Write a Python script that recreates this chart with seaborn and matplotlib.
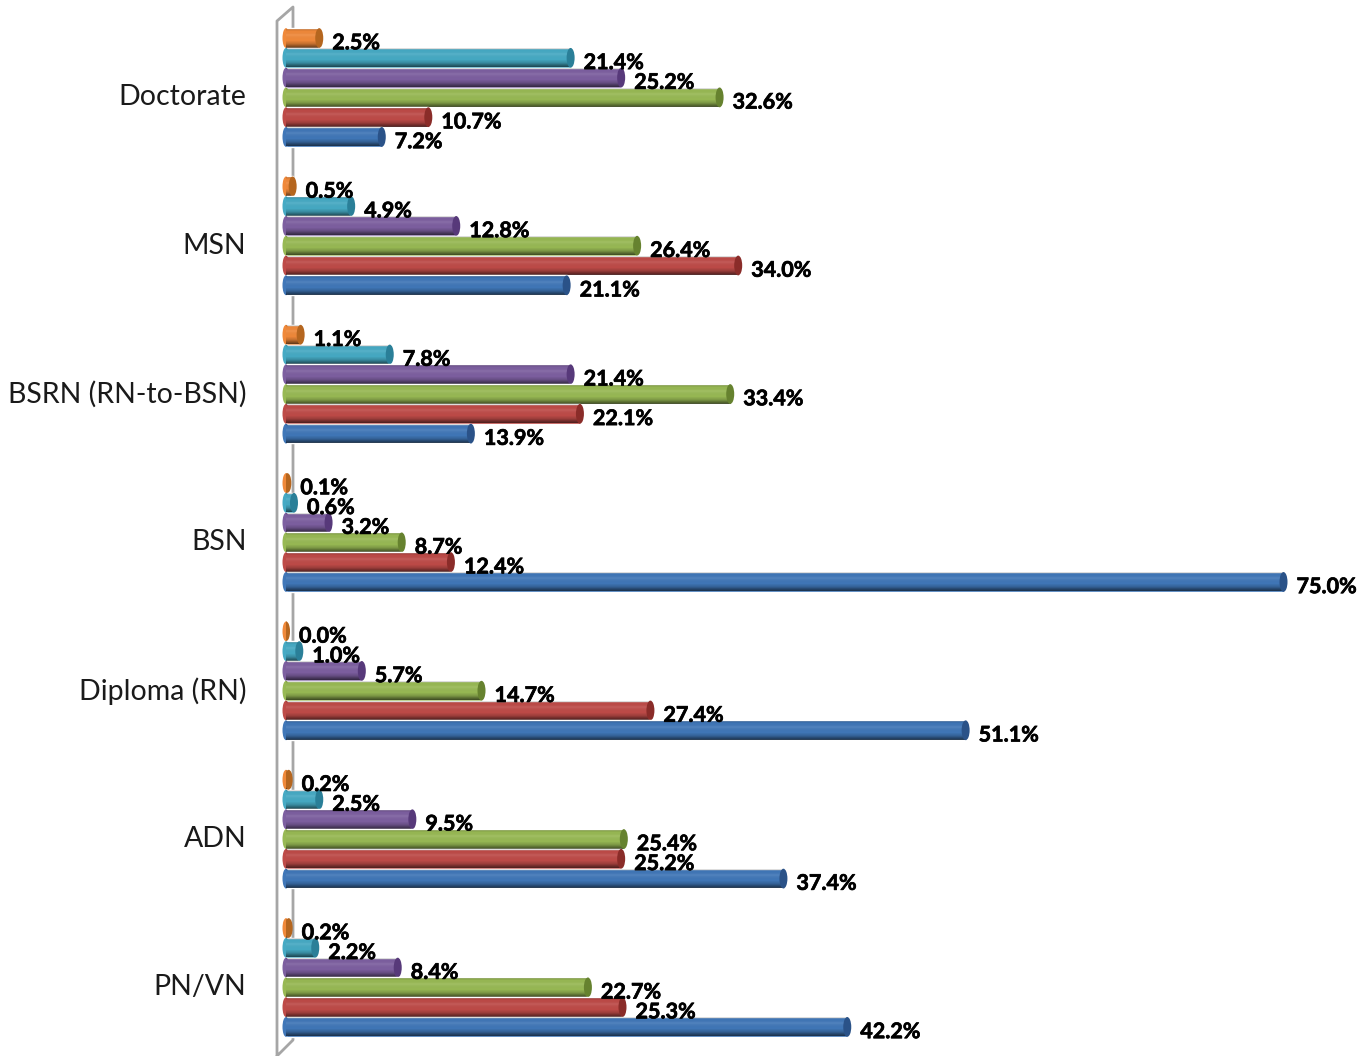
import numpy as np
import pandas as pd
import matplotlib
matplotlib.use("Agg")
import matplotlib.pyplot as plt
import matplotlib.patheffects as pe
import seaborn as sns
from matplotlib.patches import Ellipse

degrees = ["Doctorate", "MSN", "BSRN (RN-to-BSN)", "BSN", "Diploma (RN)", "ADN", "PN/VN"]
# series order top to bottom inside each group
series_names = ["orange", "teal", "purple", "green", "red", "blue"]
orange = [2.5, 0.5, 1.1, 0.1, 0.0, 0.2, 0.2]
teal = [21.4, 4.9, 7.8, 0.6, 1.0, 2.5, 2.2]
purple = [25.2, 12.8, 21.4, 3.2, 5.7, 9.5, 8.4]
green = [32.6, 26.4, 33.4, 8.7, 14.7, 25.4, 22.7]
red = [10.7, 34.0, 22.1, 12.4, 27.4, 25.2, 25.3]
blue = [7.2, 21.1, 13.9, 75.0, 51.1, 37.4, 42.2]
colors = ["#F0893A", "#46AAC4", "#7D5FA0", "#98B954", "#BE4B48", "#4077B8"]
dark_colors = ["#B5661F", "#2A7F98", "#57397A", "#66822F", "#8A2C29", "#2A5288"]

df = pd.DataFrame({"degree": degrees, "orange": orange, "teal": teal, "purple": purple,
                   "green": green, "red": red, "blue": blue})
long_df = df.melt(id_vars="degree", var_name="series", value_name="pct")

sns.set_theme(style="white")
plt.rcParams["font.family"] = ["Lato", "DejaVu Sans"]

fig = plt.figure(figsize=(13.62, 10.56), dpi=100)

# 3D wall goes behind the bars
wall = fig.add_axes([0, 0, 1, 1], facecolor="none")
wall.set_xlim(0, 1362)
wall.set_ylim(1056, 0)
wall.axis("off")
wall.plot([277, 277, 293, 293, 277], [1060, 21, 7, 1040, 1056], color="#A6A6A6", lw=2)

left_px = 286
px_per_pct = 13.3
group_px = 148.33
ax = fig.add_axes([left_px / 1362, 0, (1362 - left_px) / 1362, 1], facecolor="none")
sns.barplot(data=long_df, y="degree", x="pct", hue="series", order=degrees, hue_order=series_names,
            palette=colors, width=0.8, dodge=True, legend=False, ax=ax, saturation=1, orient="h",
            errorbar=None)

sns.despine(ax=ax, left=True, bottom=True)
ax.set_xticks([])
ax.set_xlabel("")
ax.set_ylabel("")
ax.set_yticks(np.arange(len(degrees)) + 0.05, degrees)
ax.tick_params(axis="y", length=0, pad=28.5, labelsize=20.5)
for lab in ax.get_yticklabels():
    lab.set_color("#1A1A1A")

px_x = 1 / px_per_pct

# cylinder shading, black and white with alpha over the bar colour
stops = np.array([0.0, 0.12, 0.3, 0.6, 0.8, 1.0])
alpha = np.array([0.15, 0.0, 0.10, 0.0, 0.20, 0.58])
white = np.array([0, 0, 1, 0, 0, 0])
t = np.linspace(0, 1, 24)
shade = np.zeros((24, 1, 4))
shade[:, 0, :3] = np.interp(t, stops, white)[:, None]
shade[:, 0, 3] = np.interp(t, stops, alpha)

bars_by_series = [list(c) for c in ax.containers]
for s, (bars, dk) in enumerate(zip(bars_by_series, dark_colors)):
    z = 3 + s
    for bar in bars:
        w = bar.get_width()
        y0 = bar.get_y()
        h = bar.get_height()
        bar.set_zorder(z)
        ax.add_patch(Ellipse((0, y0 + h / 2), 7 * px_x, h, facecolor=bar.get_facecolor(), edgecolor="none",
                             clip_on=False, zorder=z))
        ax.imshow(shade, extent=(0, w, y0 + h * 0.98, y0 + h * 0.03), aspect="auto", zorder=z + 0.1,
                  interpolation="bilinear")
        ax.add_patch(Ellipse((w, y0 + h / 2), 8 * px_x, h, facecolor=dk, edgecolor="none", zorder=z + 0.2))
        ax.text(w + 13 * px_x, y0 + h * 0.74, f"{w:.1f}%", fontsize=15.5, fontweight="bold",
                color="black", va="center", ha="left", zorder=20,
                path_effects=[pe.withStroke(linewidth=0.5, foreground="black")])

ax.set_xlim(0, (1362 - left_px) / px_per_pct)
ax.set_ylim((1056 - 87.5) / group_px, -87.5 / group_px)

fig.savefig("out.png", dpi=100)
